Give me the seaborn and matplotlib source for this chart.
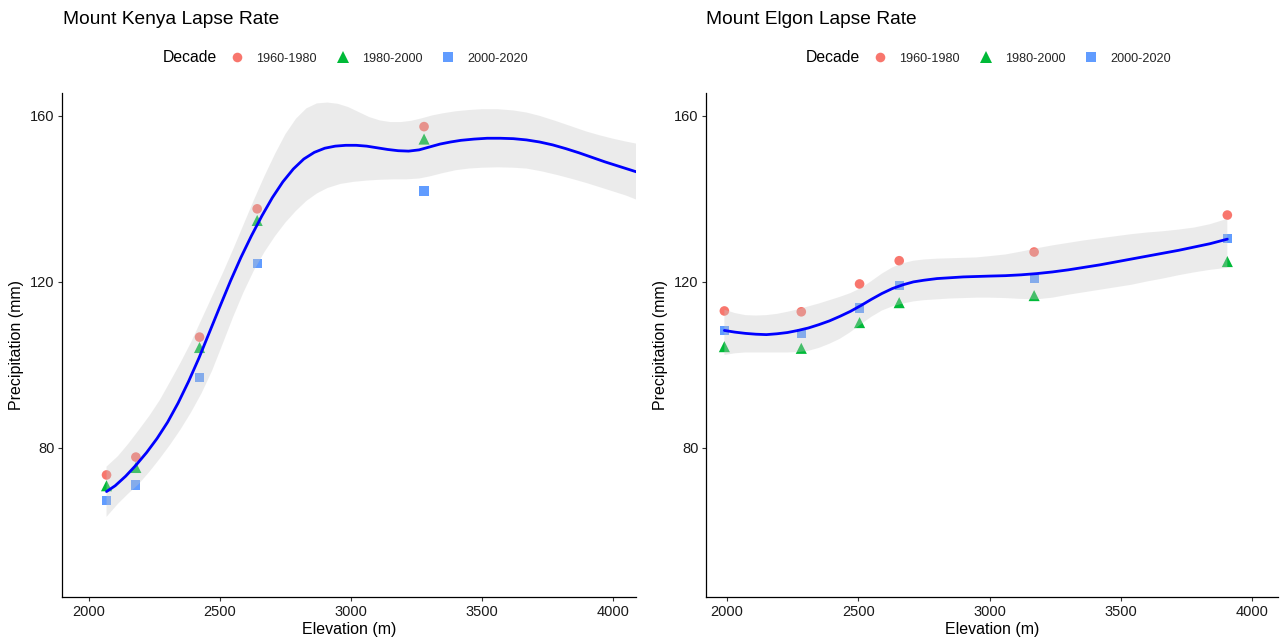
import numpy as np
import pandas as pd
import matplotlib
matplotlib.use("Agg")
import matplotlib.pyplot as plt
from matplotlib.lines import Line2D
import seaborn as sns

# ---- observed precipitation by decade -------------------------------------
decades = ["1960-1980", "1980-2000", "2000-2020"]
palette = {"1960-1980": "#F8766D", "1980-2000": "#00BA38", "2000-2020": "#619CFF"}
markers = {"1960-1980": "o", "1980-2000": "^", "2000-2020": "s"}
marker_area = {"1960-1980": 48, "1980-2000": 64, "2000-2020": 44}

kenya_elev = [2067, 2179, 2422, 2642, 3279]
kenya_1960_1980 = [73.5, 77.8, 106.7, 137.6, 157.4]
kenya_1980_2000 = [70.9, 75.3, 104.2, 134.8, 154.4]
kenya_2000_2020 = [67.3, 71.1, 97.0, 124.4, 141.9]

elgon_elev = [1990, 2283, 2505, 2656, 3170, 3906]
elgon_1960_1980 = [113.0, 112.8, 119.5, 125.1, 127.2, 136.1]
elgon_1980_2000 = [104.4, 104.0, 110.2, 115.0, 116.7, 124.9]
elgon_2000_2020 = [108.3, 107.6, 113.7, 119.1, 120.9, 130.4]

# ---- smoothed lapse-rate fit and its confidence band ----------------------
kenya_fit_elev = [2067, 2100, 2140, 2180, 2220, 2260, 2300, 2340, 2380, 2420,
                  2460, 2500, 2540, 2580, 2620, 2660, 2700, 2740, 2780, 2820,
                  2860, 2900, 2940, 2980, 3020, 3060, 3100, 3140, 3180, 3220,
                  3260, 3300, 3340, 3380, 3420, 3470, 3520, 3570, 3620, 3670,
                  3720, 3770, 3820, 3870, 3920, 3970, 4020, 4060, 4090]
kenya_fit = [69.5, 70.9, 73.2, 75.9, 78.9, 82.3, 86.2, 90.8, 96.0, 101.7,
             107.9, 114.1, 120.2, 125.9, 131.1, 135.9, 140.3, 144.1, 147.2, 149.6,
             151.2, 152.2, 152.7, 152.9, 152.9, 152.7, 152.3, 151.9, 151.6, 151.5,
             151.8, 152.5, 153.2, 153.7, 154.1, 154.4, 154.6, 154.6, 154.5, 154.2,
             153.7, 153.0, 152.1, 151.1, 150.0, 148.9, 147.9, 147.1, 146.5]

kenya_hi_elev = [2067, 2110, 2150, 2190, 2230, 2270, 2310, 2350, 2390, 2430,
                 2470, 2510, 2550, 2590, 2630, 2670, 2710, 2750, 2790, 2830,
                 2870, 2910, 2950, 2990, 3030, 3070, 3110, 3150, 3190, 3230,
                 3270, 3310, 3350, 3400, 3450, 3500, 3560, 3620, 3670, 3720,
                 3780, 3840, 3900, 3950, 4000, 4050, 4090]
kenya_hi = [75.5, 78.0, 81.0, 84.3, 87.7, 91.5, 96.0, 100.6, 105.5, 111.0,
            116.5, 122.0, 127.8, 133.8, 139.8, 145.5, 150.8, 155.6, 159.3, 161.8,
            163.0, 163.2, 162.9, 162.1, 160.9, 159.7, 158.9, 158.5, 158.5, 158.8,
            159.4, 160.1, 160.6, 161.1, 161.4, 161.6, 161.6, 161.3, 160.8, 160.0,
            158.8, 157.5, 156.2, 155.3, 154.5, 153.8, 153.3]

kenya_lo_elev = [2067, 2110, 2150, 2190, 2230, 2270, 2310, 2350, 2390, 2430,
                 2470, 2510, 2550, 2590, 2630, 2670, 2710, 2750, 2790, 2830,
                 2870, 2910, 2960, 3010, 3060, 3110, 3160, 3210, 3260, 3300,
                 3350, 3400, 3450, 3500, 3560, 3620, 3670, 3730, 3790, 3850,
                 3900, 3950, 4000, 4050, 4090]
kenya_lo = [63.4, 66.5, 69.0, 71.3, 74.2, 77.4, 80.8, 84.5, 88.6, 93.2,
            98.6, 105.0, 111.5, 117.5, 122.8, 127.2, 131.0, 134.3, 137.1, 139.5,
            141.3, 142.6, 143.6, 144.1, 144.4, 144.6, 144.7, 144.7, 144.9, 145.4,
            146.2, 146.9, 147.3, 147.5, 147.6, 147.5, 147.3, 146.6, 145.7, 144.7,
            143.8, 142.8, 141.8, 140.8, 139.8]

elgon_fit_elev = [1990, 2030, 2070, 2110, 2150, 2190, 2230, 2270, 2310, 2350,
                  2390, 2430, 2470, 2510, 2550, 2590, 2630, 2670, 2710, 2750,
                  2800, 2850, 2900, 2950, 3000, 3060, 3120, 3180, 3240, 3300,
                  3360, 3420, 3480, 3540, 3600, 3660, 3720, 3780, 3840, 3906]
elgon_fit = [108.3, 107.9, 107.6, 107.4, 107.3, 107.5, 107.8, 108.3, 108.9, 109.7,
             110.6, 111.7, 112.9, 114.3, 115.8, 117.2, 118.4, 119.3, 120.0, 120.4,
             120.8, 121.0, 121.2, 121.3, 121.4, 121.5, 121.7, 122.0, 122.4, 122.9,
             123.5, 124.1, 124.8, 125.5, 126.2, 126.9, 127.6, 128.4, 129.2, 130.3]
elgon_hi = [113.3, 112.5, 112.0, 111.9, 112.0, 112.3, 112.8, 113.4, 114.1, 114.8,
            115.6, 116.4, 117.3, 118.5, 120.2, 122.0, 123.5, 124.5, 125.1, 125.4,
            125.6, 125.7, 125.8, 125.9, 126.2, 126.6, 127.3, 128.1, 128.8, 129.4,
            130.0, 130.5, 131.0, 131.5, 131.9, 132.2, 132.6, 133.1, 133.9, 135.2]
elgon_lo = [102.4, 102.8, 103.0, 103.0, 103.0, 103.0, 103.0, 103.1, 103.4, 104.1,
            105.1, 106.3, 107.9, 109.8, 111.6, 113.1, 114.1, 114.8, 115.3, 115.6,
            115.8, 116.0, 116.1, 116.2, 116.2, 116.1, 115.9, 115.8, 116.2, 116.9,
            117.5, 118.1, 118.7, 119.3, 120.1, 120.8, 121.6, 122.3, 122.9, 123.4]

x_ticks = [2000, 2500, 3000, 3500, 4000]
y_ticks = [80, 120, 160]


def long_table(elev, a, b, c):
    frames = []
    for dec, vals in zip(decades, (a, b, c)):
        frames.append(pd.DataFrame({"Elevation": elev, "Precipitation": vals, "Decade": dec}))
    return pd.concat(frames, ignore_index=True)


kenya = long_table(kenya_elev, kenya_1960_1980, kenya_1980_2000, kenya_2000_2020)
elgon = long_table(elgon_elev, elgon_1960_1980, elgon_1980_2000, elgon_2000_2020)

sns.set_theme(style="ticks")
plt.rcParams["font.family"] = ["Liberation Sans", "DejaVu Sans"]
plt.rcParams["lines.solid_joinstyle"] = "round"

W, H = 1282, 642
fig = plt.figure(figsize=(W / 100, H / 100), dpi=100)


def fig_box(l, t, r, b):
    return [l / W, 1 - b / H, (r - l) / W, (b - t) / H]


def draw_panel(box, data, fit_x, fit_y, hi_x, hi_y, lo_x, lo_y, xlim, title, x0):
    ax = fig.add_axes(fig_box(*box))
    sns.scatterplot(data=data, x="Elevation", y="Precipitation", hue="Decade",
                    style="Decade", size="Decade", palette=palette,
                    markers=markers, sizes=marker_area,
                    hue_order=decades, style_order=decades, size_order=decades,
                    linewidth=0, ax=ax, legend=False, zorder=2)
    # confidence ribbon is laid over the points, washing those inside it
    band_x = np.r_[np.asarray(hi_x), np.asarray(lo_x)[::-1]]
    band_y = np.r_[np.asarray(hi_y), np.asarray(lo_y)[::-1]]
    ax.fill(band_x, band_y, color="#C8C8C8", alpha=0.35, lw=0, zorder=3)
    fit = pd.DataFrame({"Elevation": fit_x, "Precipitation": fit_y})
    sns.lineplot(data=fit, x="Elevation", y="Precipitation", sort=False,
                 estimator=None, color="#0000FF", lw=2.0, ax=ax, zorder=4)

    ax.set_xlim(*xlim)
    ax.set_ylim(44.1, 165.5)
    ax.set_xticks(x_ticks)
    ax.set_yticks(y_ticks)
    for side in ("top", "right"):
        ax.spines[side].set_visible(False)
    for side in ("left", "bottom"):
        ax.spines[side].set_color("black")
        ax.spines[side].set_linewidth(0.9)
    ax.tick_params(axis="both", direction="out", length=3.2, width=0.8,
                   color="#333333", labelsize=10.5, labelcolor="#1a1a1a", pad=2.2)
    ax.set_xlabel("Elevation (m)", fontsize=11.5, color="black", labelpad=2.5)
    ax.set_ylabel("Precipitation (mm)", fontsize=11.5, color="black", labelpad=4)

    fig.text(x0 / W, 1 - 19 / H, title, fontsize=13.8, color="black",
             ha="left", va="center")
    fig.text((x0 + 100) / W, 1 - 58 / H, "Decade", fontsize=11.3, color="black",
             ha="left", va="center")
    handles = [Line2D([], [], linestyle="none", marker=markers[d],
                      markerfacecolor=palette[d], markeredgewidth=0,
                      markersize=np.sqrt(marker_area[d]), label=d) for d in decades]
    fig.legend(handles=handles, loc="center left",
               bbox_to_anchor=((x0 + 168) / W, 1 - 58.5 / H),
               bbox_transform=fig.transFigure, ncol=3, frameon=False,
               fontsize=9.1, handlelength=1.0, handletextpad=1.0,
               columnspacing=1.55, borderpad=0, borderaxespad=0)
    return ax


draw_panel((62, 93, 636, 597), kenya, kenya_fit_elev, kenya_fit,
           kenya_hi_elev, kenya_hi, kenya_lo_elev, kenya_lo,
           (1897, 4088), "Mount Kenya Lapse Rate", 63)
draw_panel((706, 93, 1278, 597), elgon, elgon_fit_elev, elgon_fit,
           elgon_fit_elev, elgon_hi, elgon_fit_elev, elgon_lo,
           (1920, 4099), "Mount Elgon Lapse Rate", 706)

fig.savefig("out.png", dpi=100)
